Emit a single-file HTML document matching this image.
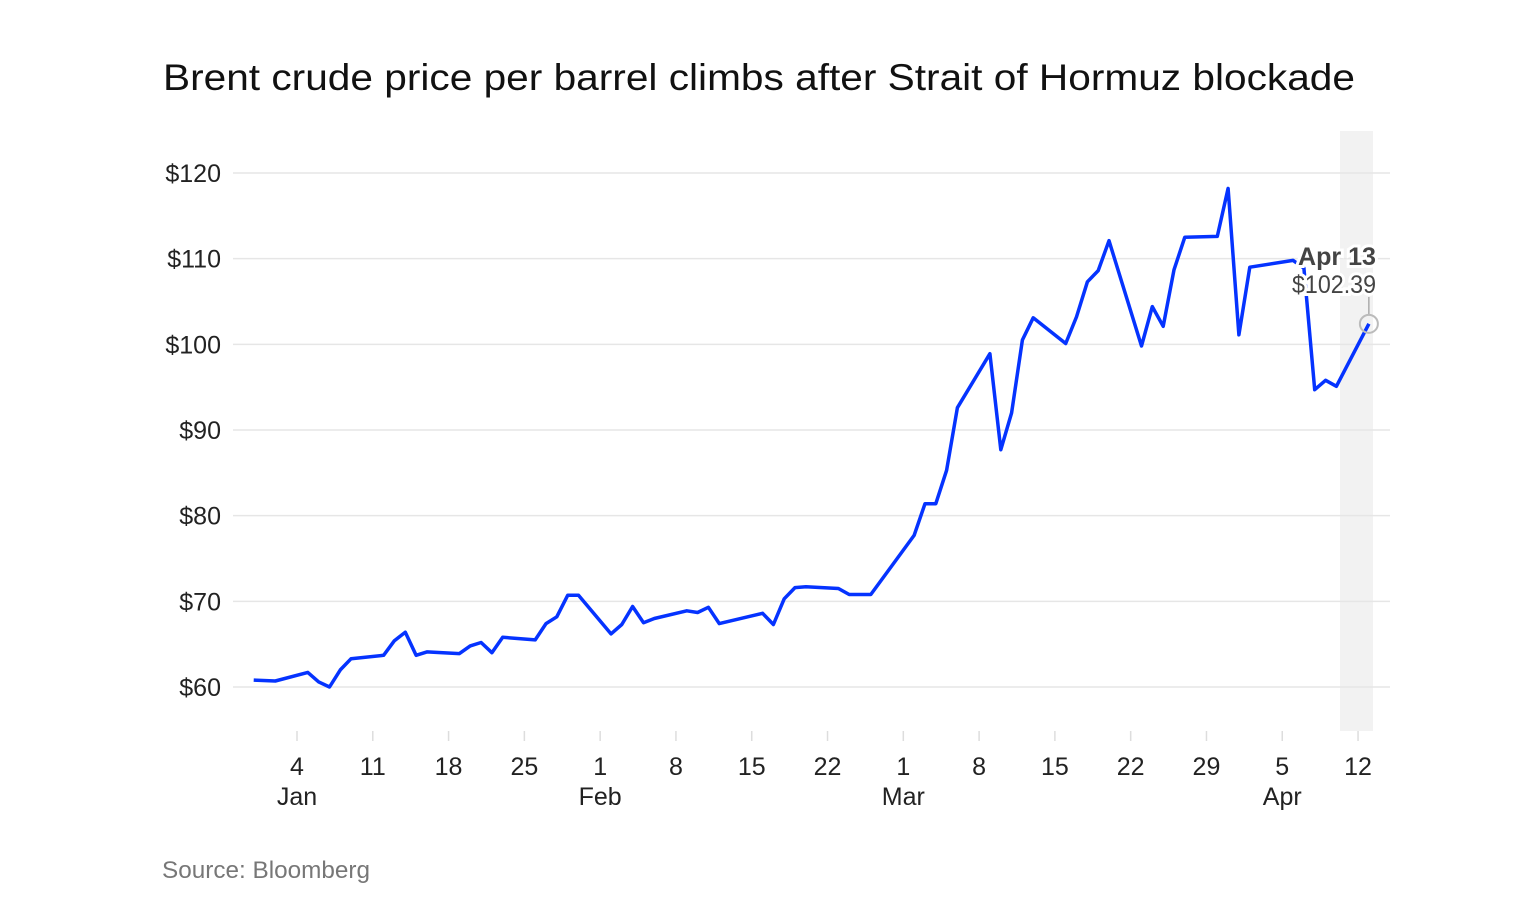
<!DOCTYPE html>
<html><head><meta charset="utf-8"><style>
body{margin:0;background:#fff;width:1528px;height:900px;overflow:hidden;font-family:"Liberation Sans",sans-serif}
</style></head><body>
<svg width="1528" height="900" xmlns="http://www.w3.org/2000/svg">
<text x="163" y="90" font-size="37" fill="#111" textLength="1192" lengthAdjust="spacingAndGlyphs">Brent crude price per barrel climbs after Strait of Hormuz blockade</text>
<rect x="1340" y="131" width="33" height="600" fill="#f2f2f2"/>
<g id="grid"></g><g id="xax"></g>
<path id="line" fill="none" stroke="#0533ff" stroke-width="3.5" stroke-linejoin="round"/>
<line id="callout-line" stroke="#999" stroke-width="1.2"/>
<circle id="endpt" r="9" fill="none" stroke="#bbb" stroke-width="2"/>
<g font-size="25" text-anchor="end" fill="#444" stroke="#fff" stroke-width="6" paint-order="stroke">
<text x="1376" y="265" font-weight="bold" textLength="78" lengthAdjust="spacingAndGlyphs">Apr 13</text>
<text x="1376" y="293" textLength="84" lengthAdjust="spacingAndGlyphs">$102.39</text>
</g>
<text x="162" y="878" font-size="24" fill="#777" textLength="208" lengthAdjust="spacingAndGlyphs">Source: Bloomberg</text>
</svg>
<script>
const days=[-1,1,4,5,6,7,8,11,12,13,14,15,18,19,20,21,22,25,26,27,28,29,32,33,34,35,36,39,40,41,42,46,47,48,49,50,53,54,56,60,61,62,63,64,67,68,69,70,71,74,75,76,77,78,81,82,83,84,85,88,89,90,91,95,96,97,98,99,102];
const prices=[60.8,60.7,61.7,60.6,60.0,62.0,63.3,63.7,65.4,66.4,63.7,64.1,63.9,64.8,65.2,64.0,65.8,65.5,67.4,68.2,70.7,70.7,66.2,67.3,69.4,67.5,68.0,68.9,68.7,69.3,67.4,68.6,67.3,70.3,71.6,71.7,71.5,70.8,70.8,77.7,81.4,81.4,85.3,92.6,98.9,87.7,92.0,100.5,103.1,100.1,103.2,107.3,108.6,112.1,99.8,104.4,102.1,108.7,112.5,112.6,118.2,101.1,109.0,109.8,108.9,94.7,95.8,95.1,102.39];
const yTicks=[60,70,80,90,100,110,120];
const xTickDays=[3,10,17,24,31,38,45,52,59,66,73,80,87,94,101];
const xTickLabels=["4","11","18","25","1","8","15","22","1","8","15","22","29","5","12"];
const monthLabels=["Jan","","","","Feb","","","","Mar","","","","","Apr",""];
const X=d=>297+(d-3)*10.827, Y=v=>687-(v-60)*8.567;
const NS="http://www.w3.org/2000/svg";
function mk(t,a,p){const e=document.createElementNS(NS,t);for(const k in a)e.setAttribute(k,a[k]);p.appendChild(e);return e;}
const g=document.getElementById('grid');
yTicks.forEach(v=>{
 const l=mk('line',{x1:233,x2:1390,y1:Y(v),y2:Y(v),stroke:'#e6e6e6','stroke-width':1.5},g);
 
 
 const t=mk('text',{x:221,y:Y(v)+9,'font-size':25,'text-anchor':'end',fill:'#222'},g);
 t.textContent='$'+v;
 
 
});
const xa=document.getElementById('xax');
xTickDays.forEach((d,i)=>{
 const l=mk('line',{x1:X(d),x2:X(d),y1:731,y2:741,stroke:'#ddd','stroke-width':1.5},xa);
 
 
 const t=mk('text',{x:X(d),y:775,'font-size':25,'text-anchor':'middle',fill:'#222'},xa);
 t.textContent=xTickLabels[i];
 
 
 if(monthLabels[i]){
  const m=mk('text',{x:X(d),y:805,'font-size':25,'text-anchor':'middle',fill:'#222'},xa);
  m.textContent=monthLabels[i];
  
  
 }
});
document.getElementById('line').setAttribute('d',days.map((d,i)=>(i?'L':'M')+X(d).toFixed(1)+','+Y(prices[i]).toFixed(1)).join(''));
const lx=X(days[days.length-1]),ly=Y(prices[prices.length-1]);
const c=document.getElementById('endpt');c.setAttribute('cx',lx);c.setAttribute('cy',ly);
const cl=document.getElementById('callout-line');cl.setAttribute('x1',lx);cl.setAttribute('x2',lx);cl.setAttribute('y1',297);cl.setAttribute('y2',ly-9);
</script>
</body></html>
